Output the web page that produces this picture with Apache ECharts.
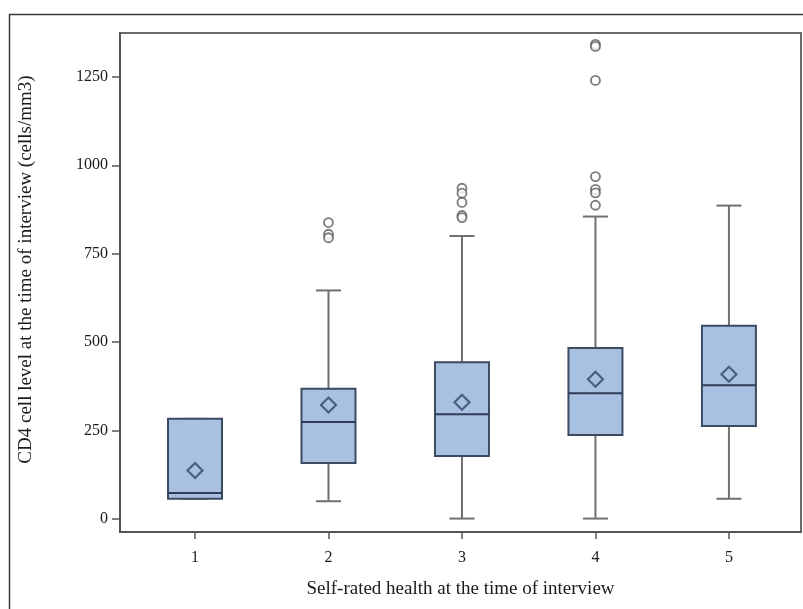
<!DOCTYPE html>
<html>
<head>
<meta charset="utf-8">
<script src="https://cdn.jsdelivr.net/npm/echarts@6/dist/echarts.min.js"></script>
<style>html,body{margin:0;padding:0;background:#fff}#c{width:803px;height:609px}</style>
</head>
<body>
<div id="c"></div>
<script>
// Categories (self-rated health)
const categories = [1, 2, 3, 4, 5];
// Box statistics per category: [min, Q1, median, Q3, max]
const boxMin    = [57, 50, 1, 1, 57];
const boxQ1     = [57, 158, 178, 237, 263];
const boxMedian = [73, 274, 296, 355, 378];
const boxQ3     = [283, 368, 443, 483, 546];
const boxMax    = [283, 646, 800, 855, 886];
// Means
const means = [137, 322, 330, 395, 409];
// Outliers: [category, value]
const outlierCats   = [2, 2, 2, 3, 3, 3, 3, 3, 4, 4, 4, 4, 4, 4, 4];
const outlierValues = [838, 805, 795, 935, 921, 895, 858, 852, 1342, 1336, 1240, 968, 932, 922, 887];
// Tick labels
const yTicks = [0, 250, 500, 750, 1000, 1250];

const boxData = categories.map((c, i) => [c, boxMin[i], boxQ1[i], boxMedian[i], boxQ3[i], boxMax[i]]);
const meanData = categories.map((c, i) => [c, means[i]]);
const outlierData = outlierCats.map((c, i) => [c, outlierValues[i]]);

const FONT = 'Liberation Serif';
const chart = echarts.init(document.getElementById('c'), null, {renderer: 'canvas'});

chart.setOption({
  backgroundColor: '#fff',
  animation: false,
  graphic: [{
    type: 'rect', left: 7, top: 12, shape: {width: 900, height: 700},
    style: {fill: 'none', stroke: '#3a3a3a', lineWidth: 1.5}, silent: true, z: 0
  }],
  grid: {left: 120, top: 33, right: 2, bottom: 77, show: true, borderColor: '#6a6a6a', borderWidth: 2, backgroundColor: 'transparent'},
  xAxis: {
    type: 'value', min: 0.438, max: 5.54,
    name: 'Self-rated health at the time of interview',
    nameLocation: 'middle', nameGap: 48,
    nameTextStyle: {fontFamily: FONT, fontSize: 19, color: '#1a1a1a'},
    axisLine: {show: true, onZero: false, lineStyle: {color: '#555', width: 2}},
    axisTick: {show: true, length: 7, lineStyle: {color: '#555', width: 1.5}, customValues: categories},
    axisLabel: {fontFamily: FONT, fontSize: 16, color: '#1a1a1a', margin: 18, customValues: categories},
    splitLine: {show: false}
  },
  yAxis: {
    type: 'value', min: -37, max: 1374,
    name: 'CD4 cell level at the time of interview (cells/mm3)',
    nameLocation: 'middle', nameGap: 84,
    nameTextStyle: {fontFamily: FONT, fontSize: 19, color: '#1a1a1a', padding: [0, 0, 0, 26]},
    axisLine: {show: true, onZero: false, lineStyle: {color: '#555', width: 2}},
    axisTick: {show: true, length: 8, lineStyle: {color: '#555', width: 1.5}, customValues: yTicks},
    axisLabel: {fontFamily: FONT, fontSize: 16, color: '#1a1a1a', margin: 12, customValues: yTicks,
      formatter: function (v) { return String(v); }},
    splitLine: {show: false}
  },
  series: [
    {
      type: 'custom',
      data: boxData,
      encode: {x: 0, y: [1, 2, 3, 4, 5]},
      z: 2,
      renderItem: function (params, api) {
        const x = api.value(0);
        const pMin = api.coord([x, api.value(1)]);
        const pQ1 = api.coord([x, api.value(2)]);
        const pMed = api.coord([x, api.value(3)]);
        const pQ3 = api.coord([x, api.value(4)]);
        const pMax = api.coord([x, api.value(5)]);
        const cx = pQ1[0];
        const half = 27, capHalf = 12.5;
        const wStyle = {stroke: '#707070', lineWidth: 2};
        return {
          type: 'group',
          children: [
            {type: 'line', shape: {x1: cx, y1: pMin[1], x2: cx, y2: pQ1[1]}, style: wStyle},
            {type: 'line', shape: {x1: cx, y1: pQ3[1], x2: cx, y2: pMax[1]}, style: wStyle},
            {type: 'line', shape: {x1: cx - capHalf, y1: pMin[1], x2: cx + capHalf, y2: pMin[1]}, style: wStyle},
            {type: 'line', shape: {x1: cx - capHalf, y1: pMax[1], x2: cx + capHalf, y2: pMax[1]}, style: wStyle},
            {type: 'rect', shape: {x: cx - half, y: pQ3[1], width: half * 2, height: pQ1[1] - pQ3[1]},
              style: {fill: '#a9c1e1', stroke: '#3c4a62', lineWidth: 2}},
            {type: 'line', shape: {x1: cx - half, y1: pMed[1], x2: cx + half, y2: pMed[1]},
              style: {stroke: '#2f3d57', lineWidth: 2}}
          ]
        };
      }
    },
    {
      type: 'scatter',
      data: meanData,
      symbol: 'diamond',
      symbolSize: [15, 15],
      z: 3,
      itemStyle: {color: '#a9c1e1', borderColor: '#34466a', borderWidth: 2.2}
    },
    {
      type: 'scatter',
      data: outlierData,
      symbol: 'circle',
      symbolSize: 9,
      z: 3,
      itemStyle: {color: '#fff', borderColor: '#5a5a5a', borderWidth: 1.8}
    }
  ]
});
</script>
</body>
</html>
